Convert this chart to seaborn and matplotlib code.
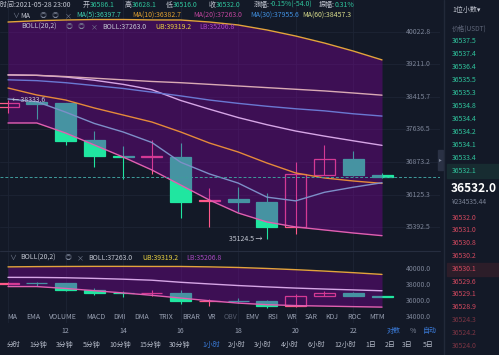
import numpy as np
import pandas as pd
import matplotlib.pyplot as plt
import matplotlib.transforms as mtrans
from matplotlib.patches import Rectangle
from matplotlib.lines import Line2D
import seaborn as sns

# ---- data (BTC/USDT 1h, 2021-05-28) ----
hours = [10, 11, 12, 13, 14, 15, 16, 17, 18, 19, 20, 21, 22, 23]
opens = [38163, 38290, 38265, 37380, 37020, 36995, 37000, 35990, 36020, 35950, 35400, 36580, 36950, 36586.1]
highs = [38333.6, 38310, 38270, 37590, 37250, 37390, 37315, 36280, 36310, 36160, 36880, 37280, 37140, 36628.1]
lows = [38022, 37875, 37275, 36750, 36480, 36600, 35600, 35390, 35740, 35124.5, 35250, 36570, 36560, 36516.0]
closes = [38260, 38255, 37365, 37010, 37000, 37010, 35965, 36010, 35950, 35400, 36590, 36950, 36586, 36532.0]

ma5 = [38365, 38300, 38050, 37780, 37578, 37330, 36870, 36600, 36390, 36070, 35985, 36180, 36295, 36397.7]
ma10 = [38631, 38462, 38341, 38149, 37981, 37814, 37578, 37318, 37108, 36852, 36622, 36507, 36438, 36382.7]
ma20 = [38950, 38940, 38900, 38820, 38720, 38590, 38330, 38120, 37920, 37750, 37600, 37480, 37370, 37263.0]
ma30 = [38830, 38810, 38760, 38690, 38620, 38530, 38440, 38340, 38260, 38190, 38130, 38080, 38010, 37955.6]
ma60 = [38950, 38940, 38910, 38870, 38830, 38790, 38760, 38720, 38680, 38640, 38600, 38560, 38510, 38457.3]
boll_ub = [40267, 40300, 40318, 40330, 40330, 40320, 40318, 40267, 40192, 40066, 39914, 39738, 39539, 39319.2]
boll_lb = [37791, 37791, 37554, 37272, 36991, 36691, 36346, 36005, 35712, 35511, 35400, 35333, 35266, 35206.8]

price_ticks = [40022.8, 39211.0, 38415.7, 37636.5, 36873.2, 36125.3, 35392.5]
sub_ticks = [40000.0, 38000.0, 36000.0, 34000.0]

asks = ["36537.5", "36537.4", "36536.4", "36535.5", "36535.3", "36534.8",
        "36534.4", "36534.2", "36534.1", "36533.4", "36532.1"]
bids = ["36532.0", "36531.0", "36530.8", "36530.2", "36530.1", "36529.6",
        "36529.1", "36528.9", "36524.3", "36524.2", "36524.0"]

indicators = ["MA", "EMA", "VOLUME", "MACD", "DMI", "DMA", "TRIX", "BRAR", "VR",
              "OBV", "EMV", "RSI", "WR", "SAR", "KDJ", "ROC", "MTM"]
indicator_x = [12, 33, 63, 96, 120, 142, 166, 191, 212, 230, 252, 273, 292, 311, 332, 354, 377]
periods = ["分时", "1分钟", "3分钟", "5分钟", "10分钟", "15分钟", "30分钟", "1小时", "2小时",
           "3小时", "4小时", "6小时", "12小时", "1日", "2日", "3日", "5日"]
period_x = [14, 38, 65, 92, 120, 150, 180, 211, 237, 263, 290, 317, 345, 371, 390, 407, 428]

df = pd.DataFrame({"i": np.arange(len(hours)), "hour": hours, "open": opens, "high": highs,
                   "low": lows, "close": closes, "ma5": ma5, "ma10": ma10, "ma20": ma20,
                   "ma30": ma30, "ma60": ma60, "ub": boll_ub, "lb": boll_lb})

# ---- style ----
BG = "#131927"
GRID = "#1d2435"
TXT = "#c3c7d2"
DIM = "#7b8396"
UP = "#ff5a8a"
DOWN = "#20e6a0"
GREEN_TXT = "#2fc39c"
RED_TXT = "#d0485e"
FS = 5.0

sns.set_theme(style="dark", rc={"axes.facecolor": BG, "figure.facecolor": BG})
plt.rcParams["font.family"] = ["Noto Sans CJK SC", "DejaVu Sans"]

W, H = 499, 355
fig = plt.figure(figsize=(W / 100, H / 100), dpi=100)
fig.patch.set_facecolor(BG)


def box(x0, y0, x1, y1):
    return [x0 / W, 1 - y1 / H, (x1 - x0) / W, (y1 - y0) / H]


def ftext(x, y, s, **kw):
    kw.setdefault("va", "center")
    kw.setdefault("fontsize", FS)
    fig.text(x / W, 1 - y / H, s, **kw)


step = 28.77
xlim = (-8 / step, (440 - 8) / step)

ax = fig.add_axes(box(0, 0, 440, 251))
sub = fig.add_axes(box(0, 252, 440, 323))
ax.set_yscale("log")
ax.set_ylim(34869, 40828)
sub.set_ylim(33208, 42138)


def candles(a, lw_wick=0.8):
    for _, r in df.iterrows():
        up = r["close"] >= r["open"]
        col = UP if up else DOWN
        a.vlines(r["i"], r["low"], r["high"], color=col, lw=lw_wick, zorder=2)
        lo, hi = min(r["open"], r["close"]), max(r["open"], r["close"])
        a.bar(r["i"], max(hi - lo, 1), bottom=lo, width=0.73,
              facecolor="none" if up else col, edgecolor=col, lw=0.9, zorder=2)


for a in (ax, sub):
    a.set_xlim(*xlim)
    a.set_facecolor(BG)
    for s in a.spines.values():
        s.set_visible(False)
    a.set_xticks([])
    a.set_yticks([])
    for h_i, h in zip(df["i"], df["hour"]):
        if h % 2 == 0:
            a.axvline(h_i, color=GRID, lw=0.6, zorder=0)
    candles(a)
    a.fill_between(df["i"], df["lb"], df["ub"], color="#8a00a6", alpha=0.36, lw=0, zorder=3)
    sns.lineplot(data=df, x="i", y="ub", ax=a, color="#e3a33c", lw=1.0, zorder=4)
    sns.lineplot(data=df, x="i", y="lb", ax=a, color="#e060b0", lw=1.0, zorder=4)
    sns.lineplot(data=df, x="i", y="ma20", ax=a, color="#d6a6e6", lw=1.0, zorder=4)
ax.yaxis.set_minor_locator(plt.NullLocator())
ax.yaxis.set_major_locator(plt.NullLocator())

# MA lines on the main chart
sns.lineplot(data=df, x="i", y="ma60", ax=ax, color="#d9aab4", lw=1.0, zorder=4)
sns.lineplot(data=df, x="i", y="ma30", ax=ax, color="#6a78d2", lw=1.0, zorder=4)
sns.lineplot(data=df, x="i", y="ma10", ax=ax, color="#e58a3a", lw=1.0, zorder=4)
sns.lineplot(data=df, x="i", y="ma5", ax=ax, color="#7d8fc8", lw=1.0, zorder=4)
for a in (ax, sub):
    a.set_xlabel("")
    a.set_ylabel("")

# price grid + tick labels
ytr = ax.get_yaxis_transform()
for p in price_ticks:
    ax.axhline(p, color=GRID, lw=0.6, zorder=0)
    ax.text(418 / 440, p, f"{p:.1f}", transform=ytr, ha="center", va="center",
            fontsize=FS, color=DIM, zorder=6)
sytr = sub.get_yaxis_transform()
for p in sub_ticks:
    sub.text(418 / 440, p, f"{p:.1f}", transform=sytr, ha="center", va="center",
             fontsize=FS, color=DIM, zorder=6, clip_on=False)

ax.axhline(closes[-1], color="#3f9c9c", lw=0.7, ls=(0, (3, 2)), zorder=5)
ax.text(0.15, highs[0], "← 38333.6", ha="left", va="center", fontsize=FS, color=TXT, zorder=6)
ax.text(8.85, min(lows), "35124.5 →", ha="right", va="center", fontsize=FS, color=TXT, zorder=6)

# separators
fig.add_artist(Line2D([0, 440 / W], [1 - 251 / H] * 2, color="#262d3f", lw=0.8))
fig.add_artist(Line2D([444 / W] * 2, [0, 1], color="#222939", lw=1.0))
fig.add_artist(Rectangle((438 / W, 1 - 170 / H), 5 / W, 20 / H, color="#2a3144"))
ftext(440.5, 160, "▸", fontsize=4, color=DIM, ha="center")

# header row 1: label sits right before its value
ftext(0, 5, "时间:2021-05-28 23:00", color=TXT)
row1 = [("开", "36586.1", 90), ("高", "36628.1", 132), ("低", "36516.0", 173),
        ("收", "36532.0", 216), ("涨幅:", "-0.15%(-54.0)", 270), ("振幅:", "0.31%", 335)]
for lab, val, x in row1:
    ftext(x - 0.5, 5, lab, color=TXT, ha="right")
    ftext(x, 5, val, color=GREEN_TXT)
row2 = [("∨", 12, DIM), ("MA", 20, TXT), ("◎", 40, DIM), ("◎", 52, DIM), ("×", 65, DIM),
        ("MA(5):36397.7", 76, "#3fcfb0"), ("MA(10):36382.7", 132, "#e0a030"),
        ("MA(20):37263.0", 193, "#c0459e"), ("MA(30):37955.6", 250, "#4090e0"),
        ("MA(60):38457.3", 302, "#d8dc8c")]
for s, x, c in row2:
    ftext(x, 16, s, color=c)
row3 = [("BOLL(20,2)", 21, TXT), ("◎", 66, DIM), ("◎", 78, DIM), ("×", 91, DIM),
        ("BOLL:37263.0", 102, TXT), ("UB:39319.2", 155, "#e8d040"), ("LB:35206.8", 199, "#a848c0")]
for s, x, c in row3:
    ftext(x, 27, s, color=c)
row_sub = [("∨", 9, DIM), ("BOLL(20,2)", 20, TXT), ("◎", 65, DIM), ("×", 77, DIM),
           ("BOLL:37263.0", 88, TXT), ("UB:39319.2", 142, "#e8d040"), ("LB:35206.8", 186, "#a848c0")]
for s, x, c in row_sub:
    ftext(x, 258, s, color=c)

# bottom menus
for s, x in zip(indicators, indicator_x):
    ftext(x, 317, s, color="#555c6e" if s == "OBV" else "#9aa2b4", ha="center")
xtr = mtrans.blended_transform_factory(ax.transData, fig.transFigure)
for h_i, h in zip(df["i"], df["hour"]):
    if h % 2 == 0 and h > 10:
        ax.text(h_i, 1 - 331 / H, str(h), transform=xtr, ha="center", va="center",
                fontsize=FS, color="#9aa2b4", clip_on=False)
ftext(394, 331, "对数", color="#3a7ad8", ha="center")
ftext(413, 331, "%", color=DIM, ha="center")
ftext(430, 331, "自动", color="#3a7ad8", ha="center")
for s, x in zip(periods, period_x):
    ftext(x, 345, s, color="#3a7ad8" if s == "1小时" else "#b4bac8", ha="center")

# order book panel
ftext(452, 10, "1位小数▾", color=TXT)
ftext(452, 29, "价格(USDT)", color="#5f6679", fontsize=4.8)
fig.add_artist(Rectangle((447 / W, 1 - 178 / H), 52 / W, 14 / H, color="#172c31"))
for k, s in enumerate(asks):
    ftext(452, 40.7 + 13.0 * k, s, color=GREEN_TXT)
ftext(451, 189, "36532.0", color="white", fontsize=8.6, fontweight="bold")
ftext(452, 202.5, "¥234535.44", color=DIM, fontsize=4.8)
fig.add_artist(Rectangle((447 / W, 1 - 276 / H), 52 / W, 13.5 / H, color="#2c1d29"))
for k, s in enumerate(bids):
    ftext(452, 217.7 + 12.8 * k, s, color=RED_TXT if k < 8 else "#7a3443")

fig.savefig("out.png", dpi=100, facecolor=BG)
